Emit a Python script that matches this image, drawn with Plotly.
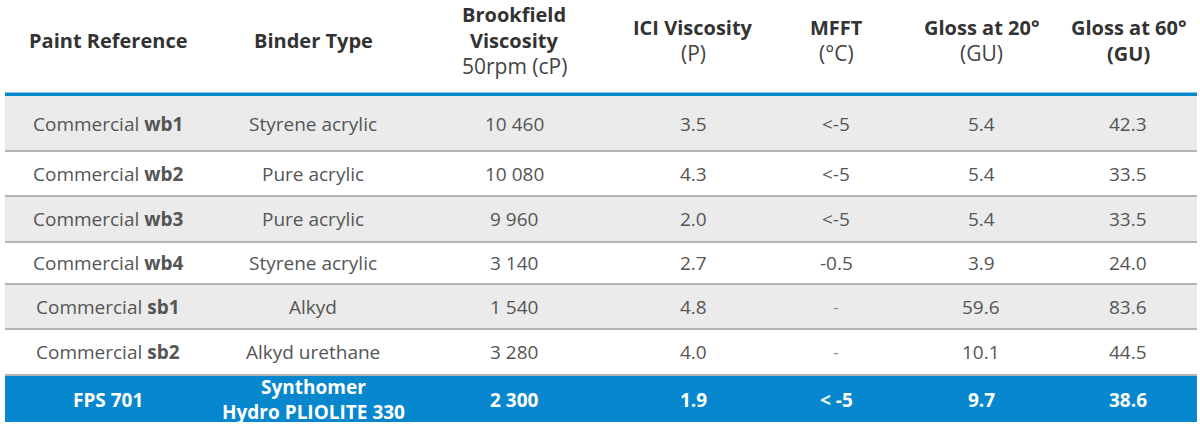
import plotly.graph_objects as go

# ---- data ----
header_lines = [
    [("Paint Reference", True)],
    [("Binder Type", True)],
    [("Brookfield", True), ("Viscosity", True), ("50rpm (cP)", False)],
    [("ICI Viscosity", True), ("(P)", False)],
    [("MFFT", True), ("(°C)", False)],
    [("Gloss at 20°", True), ("(GU)", False)],
    [("Gloss at 60°", True), ("(GU)", True)],
]
paint_refs = ["Commercial <b>wb1</b>", "Commercial <b>wb2</b>", "Commercial <b>wb3</b>",
              "Commercial <b>wb4</b>", "Commercial <b>sb1</b>", "Commercial <b>sb2</b>",
              "FPS 701"]
binders = ["Styrene acrylic", "Pure acrylic", "Pure acrylic", "Styrene acrylic",
           "Alkyd", "Alkyd urethane", "Synthomer<br>Hydro PLIOLITE 330"]
brookfield = ["10 460", "10 080", "9 960", "3 140", "1 540", "3 280", "2 300"]
ici = ["3.5", "4.3", "2.0", "2.7", "4.8", "4.0", "1.9"]
mfft = ["&lt;-5", "&lt;-5", "&lt;-5", "-0.5", "-", "-", "&lt; -5"]
gloss20 = ["5.4", "5.4", "5.4", "3.9", "59.6", "10.1", "9.7"]
gloss60 = ["42.3", "33.5", "33.5", "24.0", "83.6", "44.5", "38.6"]

# ---- layout constants ----
W, H = 1200, 427
X0, X1 = 5, 1197
col_centers = [108, 313, 514, 693, 836, 981, 1128]
row_bounds = [96, 151, 196, 242, 284, 329, 375, 422]
row_fill = ["#ebebeb", "#ffffff", "#ebebeb", "#ffffff", "#ebebeb", "#ffffff", "#0787cd"]
BLUE = "#0787cd"
FONT = "Open Sans"

fig = go.Figure()
shapes = []
ann = []

# header blue rule
shapes.append(dict(type="rect", x0=X0, x1=X1, y0=92.5, y1=96, fillcolor=BLUE,
                   line=dict(width=0), layer="below"))

columns = [paint_refs, binders, brookfield, ici, mfft, gloss20, gloss60]
n = len(paint_refs)
for i in range(n):
    y0, y1 = row_bounds[i], row_bounds[i + 1]
    shapes.append(dict(type="rect", x0=X0, x1=X1, y0=y0, y1=y1, fillcolor=row_fill[i],
                       line=dict(width=0), layer="below"))
    if i < n - 1:
        shapes.append(dict(type="line", x0=X0, x1=X1, y0=y1, y1=y1,
                           line=dict(color="#b4b4b4", width=2)))
    last = i == n - 1
    yc = (y0 + y1) / 2
    for c, col in enumerate(columns):
        if last:
            txt = "<br>".join(f"<b>{p}</b>" for p in col[i].split("<br>"))
            ann.append(dict(x=col_centers[c], y=yc + 1, text=txt, showarrow=False,
                            xanchor="center", yanchor="middle", xref="x", yref="y",
                            font=dict(family=FONT, size=19, color="#ffffff")))
        else:
            txt = col[i]
            color = "#9a9a9a" if txt == "-" else "#555555"
            ann.append(dict(x=col_centers[c], y=yc, text=txt, showarrow=False,
                            xanchor="center", yanchor="middle", xref="x", yref="y",
                            font=dict(family=FONT, size=19, color=color)))

# header
for c, lines in enumerate(header_lines):
    k = len(lines)
    for j, (t, bold) in enumerate(lines):
        y = 40 + (j - (k - 1) / 2) * 26
        ann.append(dict(x=col_centers[c], y=y, text=f"<b>{t}</b>" if bold else t,
                        showarrow=False, xanchor="center", yanchor="middle",
                        xref="x", yref="y",
                        font=dict(family=FONT, size=20 if bold else 21,
                                  color="#333333" if bold else "#444444")))

fig.update_layout(
    width=W, height=H, margin=dict(l=0, r=0, t=0, b=0),
    paper_bgcolor="white", plot_bgcolor="white",
    xaxis=dict(range=[0, W], visible=False, fixedrange=True),
    yaxis=dict(range=[H, 0], visible=False, fixedrange=True),
    shapes=shapes, annotations=ann, showlegend=False,
)
fig.write_html("out.html", config={"displayModeBar": False},
               post_script="document.body.style.margin='0';document.body.style.overflow='hidden';")
